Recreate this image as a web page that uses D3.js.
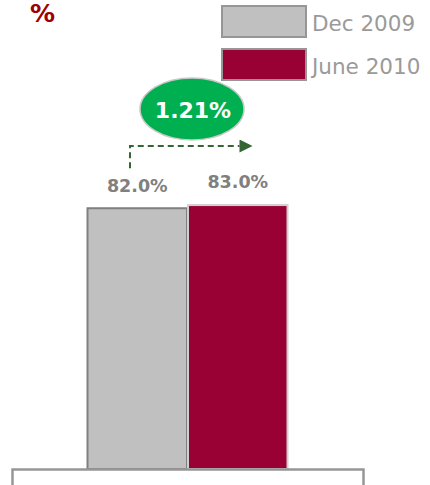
<!DOCTYPE html>
<html>
<head>
<meta charset="utf-8">
<script src="https://cdn.jsdelivr.net/npm/d3@7/dist/d3.min.js"></script>
<style>
  html, body { margin: 0; padding: 0; background: #fff; }
  svg { display: block; }
</style>
</head>
<body>
<svg id="chart" width="430" height="485"></svg>
<script>
// Data
const categories = ["Total"];
const seriesNames = ["Dec 2009", "June 2010"];
const seriesValues = [82.0, 83.0];
const valueLabels = ["82.0%", "83.0%"];
const changeLabel = "1.21%";
const unitLabel = "%";

const fills = ["#c0c0c0", "#990033"];
const strokes = ["#808080", "#d0d0d0"];
const font = "'DejaVu Sans', sans-serif";

const svg = d3.select("#chart");

const x0 = d3.scaleBand().domain(categories).range([12, 363]).padding(0);
const x1 = d3.scaleBand().domain(seriesNames)
  .range([x0(categories[0]) + 75, x0(categories[0]) + x0.bandwidth() - 75])
  .paddingInner(0);
const y = d3.scaleLinear().domain([0, 100]).range([469, 151]);

// Bars
const rows = seriesNames.map((s, i) => ({ s, v: seriesValues[i], i }));
svg.append("g").selectAll("rect").data(rows).join("rect")
  .attr("x", d => x1(d.s) + 0.5)
  .attr("y", d => y(d.v))
  .attr("width", x1.bandwidth() - 1)
  .attr("height", d => y(0) - y(d.v))
  .attr("fill", d => fills[d.i])
  .attr("stroke", d => strokes[d.i])
  .attr("stroke-width", 2);

// Axis with end brackets
const axis = d3.axisBottom(x0).tickSizeInner(0).tickSizeOuter(16).tickFormat("");
const ax = svg.append("g").attr("transform", `translate(0,${y(0)})`).call(axis);
ax.select(".domain").attr("stroke", "#969696").attr("stroke-width", 2.5);
ax.selectAll(".tick").remove();

// Value labels
const labelDy = [16, 17];
svg.append("g").selectAll("text").data(rows).join("text")
  .attr("x", d => x1(d.s) + x1.bandwidth() / 2)
  .attr("y", d => y(d.v) - labelDy[d.i])
  .attr("text-anchor", "middle")
  .attr("font-family", font)
  .attr("font-weight", "bold")
  .attr("font-size", 17.5)
  .attr("fill", "#808080")
  .text((d, i) => valueLabels[i]);

// Change arrow
const ax0 = 130;
const arrowY = 146;
svg.append("defs").append("marker")
  .attr("id", "arrowhead")
  .attr("viewBox", "0 0 10 10")
  .attr("refX", 0).attr("refY", 5)
  .attr("markerWidth", 7).attr("markerHeight", 6.5)
  .attr("markerUnits", "strokeWidth")
  .attr("orient", "auto")
  .append("path").attr("d", "M0,0 L10,5 L0,10 Z").attr("fill", "#336633");
svg.append("path")
  .attr("d", `M${ax0},${y(seriesValues[0]) - 40} V${arrowY} H${x1(seriesNames[1]) + 52}`)
  .attr("fill", "none")
  .attr("stroke", "#336633")
  .attr("stroke-width", 2)
  .attr("stroke-dasharray", "6,4")
  .attr("marker-end", "url(#arrowhead)");

// Change bubble
svg.append("ellipse")
  .attr("cx", 192).attr("cy", 109)
  .attr("rx", 52).attr("ry", 31)
  .attr("fill", "#00b050")
  .attr("stroke", "#c8c8c8")
  .attr("stroke-width", 1.5);
svg.append("text")
  .attr("x", 193).attr("y", 118)
  .attr("text-anchor", "middle")
  .attr("font-family", font)
  .attr("font-weight", "bold")
  .attr("font-size", 22)
  .attr("fill", "#ffffff")
  .text(changeLabel);

// Unit label
svg.append("text")
  .attr("x", 30).attr("y", 22)
  .attr("font-family", font)
  .attr("font-weight", "bold")
  .attr("font-size", 25)
  .attr("fill", "#a00000")
  .text(unitLabel);

// Legend
const legend = svg.append("g").selectAll("g").data(rows).join("g")
  .attr("transform", d => `translate(221,${5 + d.i * 43})`);
legend.append("rect")
  .attr("x", 1).attr("y", 1)
  .attr("width", 84).attr("height", 31)
  .attr("fill", d => fills[d.i])
  .attr("stroke", "#969696")
  .attr("stroke-width", 2);
legend.append("text")
  .attr("x", 91).attr("y", 26)
  .attr("font-family", font)
  .attr("font-size", 21.5)
  .attr("fill", "#9a9a9a")
  .text(d => d.s);
</script>
</body>
</html>
